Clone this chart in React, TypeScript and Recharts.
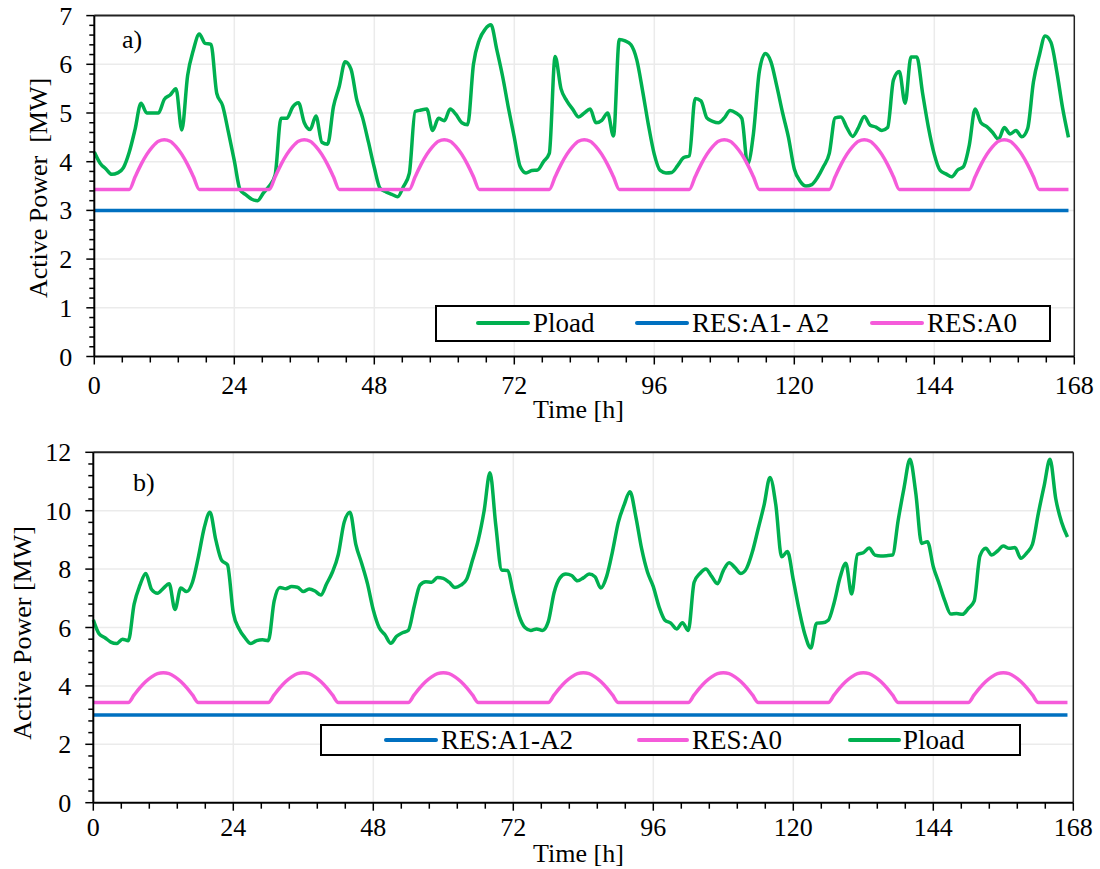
import React from 'react';
import { LineChart, Line, XAxis, YAxis, CartesianGrid, ReferenceLine } from 'recharts';

const FONT = '"Liberation Serif", "Times New Roman", Times, serif';

const HOURS = Array.from({ length: 168 }, (_, i) => i);

const PLOAD_A = [
  4.2, 3.97, 3.85, 3.74, 3.77, 3.88, 4.2, 4.67, 5.2, 5.0, 5.0, 5.0,
  5.28, 5.37, 5.5, 4.65, 5.77, 6.3, 6.62, 6.43, 6.41, 5.4, 5.15, 4.6,
  4.02, 3.42, 3.32, 3.23, 3.2, 3.36, 3.5, 3.73, 4.89, 4.89, 5.12, 5.21,
  4.8, 4.66, 4.94, 4.4, 4.36, 5.13, 5.55, 6.05, 5.9, 5.27, 4.9, 4.4,
  3.88, 3.45, 3.38, 3.33, 3.28, 3.49, 3.76, 5.03, 5.06, 5.08, 4.64, 4.89,
  4.84, 5.08, 4.97, 4.8, 4.76, 6.0, 6.5, 6.72, 6.81, 6.3, 5.75, 5.1,
  4.5, 3.9, 3.77, 3.82, 3.83, 4.0, 4.17, 6.16, 5.5, 5.25, 5.08, 4.92,
  5.0, 5.08, 4.8, 4.85, 5.0, 4.53, 6.51, 6.48, 6.4, 6.09, 5.45, 4.75,
  4.15, 3.82, 3.77, 3.78, 3.92, 4.08, 4.12, 5.3, 5.25, 4.9, 4.83, 4.8,
  4.9, 5.05, 5.0, 4.89, 3.95, 4.58, 5.85, 6.22, 6.05, 5.55, 5.0, 4.5,
  3.85, 3.6, 3.5, 3.53, 3.68, 3.9, 4.17, 4.9, 4.92, 4.7, 4.52, 4.7,
  4.93, 4.75, 4.71, 4.64, 4.7, 5.68, 5.85, 5.2, 6.15, 6.15, 5.4, 4.7,
  4.15, 3.82, 3.75, 3.69, 3.83, 3.9, 4.34, 5.08, 4.8, 4.72, 4.6, 4.46,
  4.7, 4.57, 4.64, 4.51, 4.68, 5.64, 6.18, 6.58, 6.45, 5.85, 5.1, 4.5,
];

const PLOAD_B = [
  6.26, 5.78, 5.65, 5.5, 5.45, 5.6, 5.55, 6.8, 7.45, 7.85, 7.3, 7.17,
  7.34, 7.5, 6.62, 7.35, 7.23, 7.55, 8.4, 9.4, 9.95, 9.0, 8.3, 8.15,
  6.5, 5.95, 5.65, 5.45, 5.55, 5.58, 5.55, 6.9, 7.37, 7.33, 7.4, 7.38,
  7.23, 7.32, 7.25, 7.11, 7.5, 7.9, 8.5, 9.6, 9.95, 8.85, 8.2, 7.5,
  6.6, 6.0, 5.75, 5.46, 5.7, 5.82, 5.9, 6.71, 7.45, 7.57, 7.55, 7.71,
  7.68, 7.55, 7.37, 7.45, 7.65, 8.3, 9.0, 10.0, 11.3, 9.5, 7.97, 7.95,
  7.17, 6.4, 6.0, 5.9, 5.95, 5.9, 6.2, 7.2, 7.7, 7.83, 7.78, 7.6,
  7.7, 7.83, 7.74, 7.35, 7.75, 8.6, 9.6, 10.2, 10.65, 9.8, 8.7, 7.9,
  7.4, 6.7, 6.25, 6.15, 5.95, 6.16, 5.9, 7.55, 7.85, 8.0, 7.75, 7.5,
  7.95, 8.22, 8.05, 7.85, 8.03, 8.6, 9.4, 10.2, 11.14, 10.2, 8.42, 8.6,
  7.63, 6.6, 5.75, 5.3, 6.15, 6.16, 6.25, 6.85, 7.7, 8.2, 7.15, 8.5,
  8.56, 8.72, 8.48, 8.45, 8.46, 8.48, 9.7, 10.8, 11.76, 10.6, 8.88, 8.94,
  8.08, 7.5, 6.9, 6.46, 6.48, 6.45, 6.65, 6.9, 8.45, 8.71, 8.48, 8.62,
  8.79, 8.71, 8.74, 8.37, 8.55, 8.85, 9.9, 10.85, 11.76, 10.4, 9.6, 9.1,
];

const RES_A0 = [
  3.43, 3.43, 3.43, 3.43, 3.43, 3.43, 3.43, 3.69, 3.94, 4.15, 4.31, 4.42, 4.45, 4.42, 4.31, 4.15, 3.94, 3.69, 3.43, 3.43, 3.43, 3.43, 3.43, 3.43,
  3.43, 3.43, 3.43, 3.43, 3.43, 3.43, 3.43, 3.69, 3.94, 4.15, 4.31, 4.42, 4.45, 4.42, 4.31, 4.15, 3.94, 3.69, 3.43, 3.43, 3.43, 3.43, 3.43, 3.43,
  3.43, 3.43, 3.43, 3.43, 3.43, 3.43, 3.43, 3.69, 3.94, 4.15, 4.31, 4.42, 4.45, 4.42, 4.31, 4.15, 3.94, 3.69, 3.43, 3.43, 3.43, 3.43, 3.43, 3.43,
  3.43, 3.43, 3.43, 3.43, 3.43, 3.43, 3.43, 3.69, 3.94, 4.15, 4.31, 4.42, 4.45, 4.42, 4.31, 4.15, 3.94, 3.69, 3.43, 3.43, 3.43, 3.43, 3.43, 3.43,
  3.43, 3.43, 3.43, 3.43, 3.43, 3.43, 3.43, 3.69, 3.94, 4.15, 4.31, 4.42, 4.45, 4.42, 4.31, 4.15, 3.94, 3.69, 3.43, 3.43, 3.43, 3.43, 3.43, 3.43,
  3.43, 3.43, 3.43, 3.43, 3.43, 3.43, 3.43, 3.69, 3.94, 4.15, 4.31, 4.42, 4.45, 4.42, 4.31, 4.15, 3.94, 3.69, 3.43, 3.43, 3.43, 3.43, 3.43, 3.43,
  3.43, 3.43, 3.43, 3.43, 3.43, 3.43, 3.43, 3.69, 3.94, 4.15, 4.31, 4.42, 4.45, 4.42, 4.31, 4.15, 3.94, 3.69, 3.43, 3.43, 3.43, 3.43, 3.43, 3.43,
];

const RES_A1A2 = [
  3, 3, 3, 3, 3, 3, 3, 3, 3, 3, 3, 3, 3, 3, 3, 3, 3, 3, 3, 3, 3, 3, 3, 3,
  3, 3, 3, 3, 3, 3, 3, 3, 3, 3, 3, 3, 3, 3, 3, 3, 3, 3, 3, 3, 3, 3, 3, 3,
  3, 3, 3, 3, 3, 3, 3, 3, 3, 3, 3, 3, 3, 3, 3, 3, 3, 3, 3, 3, 3, 3, 3, 3,
  3, 3, 3, 3, 3, 3, 3, 3, 3, 3, 3, 3, 3, 3, 3, 3, 3, 3, 3, 3, 3, 3, 3, 3,
  3, 3, 3, 3, 3, 3, 3, 3, 3, 3, 3, 3, 3, 3, 3, 3, 3, 3, 3, 3, 3, 3, 3, 3,
  3, 3, 3, 3, 3, 3, 3, 3, 3, 3, 3, 3, 3, 3, 3, 3, 3, 3, 3, 3, 3, 3, 3, 3,
  3, 3, 3, 3, 3, 3, 3, 3, 3, 3, 3, 3, 3, 3, 3, 3, 3, 3, 3, 3, 3, 3, 3, 3,
];

const X_MAJOR = [0, 24, 48, 72, 96, 120, 144, 168];
const X_TICKS = [
  0, 4.8, 9.6, 14.4, 19.2, 24, 28.8, 33.6, 38.4, 43.2, 48, 52.8, 57.6, 62.4, 67.2,
  72, 76.8, 81.6, 86.4, 91.2, 96, 100.8, 105.6, 110.4, 115.2, 120, 124.8, 129.6,
  134.4, 139.2, 144, 148.8, 153.6, 158.4, 163.2, 168,
];
const Y_MAJOR_A = [0, 1, 2, 3, 4, 5, 6, 7];
const Y_TICKS_A = [
  0, 0.2, 0.4, 0.6, 0.8, 1, 1.2, 1.4, 1.6, 1.8, 2, 2.2, 2.4, 2.6, 2.8, 3, 3.2, 3.4, 3.6, 3.8,
  4, 4.2, 4.4, 4.6, 4.8, 5, 5.2, 5.4, 5.6, 5.8, 6, 6.2, 6.4, 6.6, 6.8, 7,
];
const Y_MAJOR_B = [0, 2, 4, 6, 8, 10, 12];
const Y_TICKS_B = [
  0, 0.4, 0.8, 1.2, 1.6, 2, 2.4, 2.8, 3.2, 3.6, 4, 4.4, 4.8, 5.2, 5.6, 6, 6.4, 6.8, 7.2, 7.6,
  8, 8.4, 8.8, 9.2, 9.6, 10, 10.4, 10.8, 11.2, 11.6, 12,
];

const GREEN = '#00B050';
const BLUE = '#0070C0';
const PINK = '#F55BDA';

const dataA = HOURS.map((h, i) => ({ h, pload: PLOAD_A[i], resA0: RES_A0[i], resA1A2: RES_A1A2[i] }));
const dataB = HOURS.map((h, i) => ({ h, pload: PLOAD_B[i], resA0: RES_A0[i], resA1A2: RES_A1A2[i] }));

const isIn = (v: number, list: number[]) => list.some((m) => Math.abs(m - v) < 1e-6);

const makeXTick = (labelDy: number) => (props: any) => {
  const { x, y, payload } = props;
  const v = payload.value;
  const major = isIn(v, X_MAJOR);
  return (
    <g>
      <line x1={x} x2={x} y1={y} y2={y + (major ? 8 : 6)} stroke="#000" strokeWidth={1.5} />
      {major && (
        <text x={x} y={y + labelDy} textAnchor="middle" fontSize={26} fontFamily={FONT} fill="#000">
          {v}
        </text>
      )}
    </g>
  );
};

const makeYTick = (majors: number[]) => (props: any) => {
  const { x, y, payload } = props;
  const v = payload.value;
  const major = isIn(v, majors);
  return (
    <g>
      <line x1={x - (major ? 8 : 5)} x2={x} y1={y} y2={y} stroke="#000" strokeWidth={1.5} />
      {major && (
        <text x={x - 22} y={y + 9} textAnchor="end" fontSize={26} fontFamily={FONT} fill="#000">
          {v}
        </text>
      )}
    </g>
  );
};

const textStyle: React.CSSProperties = {
  position: 'absolute',
  fontFamily: FONT,
  fontSize: 26,
  color: '#000',
  whiteSpace: 'pre',
  lineHeight: '30px',
};

const LegendSwatch = ({ left, top, width, color }: any) => (
  <div style={{ position: 'absolute', left, top: top - 2, width, height: 4, background: color, borderRadius: 2 }} />
);

const LegendText = ({ left, top, text }: any) => (
  <div style={{ ...textStyle, fontSize: 27, left, top: top - 15 }}>{text}</div>
);

export default function App() {
  return (
    <div
      style={{
        position: 'absolute',
        left: 0,
        top: 0,
        width: 1100,
        height: 869,
        background: '#fff',
        overflow: 'hidden',
      }}
    >
      {/* Chart a) */}
      <div style={{ position: 'absolute', left: 0, top: 0 }}>
        <LineChart width={1100} height={430} data={dataA} margin={{ top: 15.6, right: 25.7, left: 0, bottom: 0 }}>
          <CartesianGrid
            stroke="#EBEBEB"
            strokeWidth={1.5}
            verticalValues={[24, 48, 72, 96, 120, 144]}
            horizontalValues={[1, 2, 3, 4, 5, 6]}
          />
          <XAxis
            dataKey="h"
            type="number"
            domain={[0, 168]}
            ticks={X_TICKS}
            interval={0}
            tick={makeXTick(37.8)}
            tickLine={false}
            tickSize={0}
            tickMargin={0}
            height={73.5}
            axisLine={{ stroke: '#000', strokeWidth: 2 }}
          />
          <YAxis
            type="number"
            domain={[0, 7]}
            ticks={Y_TICKS_A}
            interval={0}
            tick={makeYTick(Y_MAJOR_A)}
            tickLine={false}
            tickSize={0}
            tickMargin={0}
            width={94.3}
            axisLine={{ stroke: '#000', strokeWidth: 2 }}
          />
          <ReferenceLine y={7} stroke="#222" strokeWidth={2} />
          <ReferenceLine x={168} stroke="#222" strokeWidth={1.5} />
          <Line type="monotone" dataKey="pload" stroke={GREEN} strokeWidth={3.5} dot={false} isAnimationActive={false} />
          <Line type="monotone" dataKey="resA1A2" stroke={BLUE} strokeWidth={3.5} dot={false} isAnimationActive={false} />
          <Line type="monotone" dataKey="resA0" stroke={PINK} strokeWidth={3.5} dot={false} isAnimationActive={false} />
        </LineChart>
      </div>

      {/* Chart b) */}
      <div style={{ position: 'absolute', left: 0, top: 430 }}>
        <LineChart width={1100} height={439} data={dataB} margin={{ top: 22.3, right: 26.7, left: 0, bottom: 0 }}>
          <CartesianGrid
            stroke="#EBEBEB"
            strokeWidth={1.5}
            verticalValues={[24, 48, 72, 96, 120, 144]}
            horizontalValues={[2, 4, 6, 8, 10]}
          />
          <XAxis
            dataKey="h"
            type="number"
            domain={[0, 168]}
            ticks={X_TICKS}
            interval={0}
            tick={makeXTick(33.5)}
            tickLine={false}
            tickSize={0}
            tickMargin={0}
            height={66.3}
            axisLine={{ stroke: '#000', strokeWidth: 2 }}
          />
          <YAxis
            type="number"
            domain={[0, 12]}
            ticks={Y_TICKS_B}
            interval={0}
            tick={makeYTick(Y_MAJOR_B)}
            tickLine={false}
            tickSize={0}
            tickMargin={0}
            width={93.3}
            axisLine={{ stroke: '#000', strokeWidth: 2 }}
          />
          <ReferenceLine y={12} stroke="#222" strokeWidth={2} />
          <ReferenceLine x={168} stroke="#222" strokeWidth={1.5} />
          <Line type="monotone" dataKey="resA1A2" stroke={BLUE} strokeWidth={3.5} dot={false} isAnimationActive={false} />
          <Line type="monotone" dataKey="resA0" stroke={PINK} strokeWidth={3.5} dot={false} isAnimationActive={false} />
          <Line type="monotone" dataKey="pload" stroke={GREEN} strokeWidth={3.5} dot={false} isAnimationActive={false} />
        </LineChart>
      </div>

      {/* panel labels */}
      <div style={{ ...textStyle, left: 122, top: 25 }}>a)</div>
      <div style={{ ...textStyle, left: 133, top: 468 }}>b)</div>

      {/* axis titles */}
      <div style={{ ...textStyle, left: 478.5, width: 200, textAlign: 'center', top: 395 }}>Time [h]</div>
      <div style={{ ...textStyle, left: 478.5, width: 200, textAlign: 'center', top: 839 }}>Time [h]</div>
      <div
        style={{
          ...textStyle,
          left: 39 - 150,
          top: 188 - 15,
          width: 300,
          textAlign: 'center',
          transform: 'rotate(-90deg)',
        }}
      >
        {'Active Power  [MW]'}
      </div>
      <div
        style={{
          ...textStyle,
          left: 23 - 150,
          top: 633 - 15,
          width: 300,
          textAlign: 'center',
          transform: 'rotate(-90deg)',
        }}
      >
        {'Active Power [MW]'}
      </div>

      {/* legend a) */}
      <div
        style={{
          position: 'absolute',
          left: 435,
          top: 305,
          width: 612,
          height: 33,
          border: '2px solid #000',
          background: '#fff',
        }}
      />
      <LegendSwatch left={476} top={323} width={54} color={GREEN} />
      <LegendText left={533} top={323} text="Pload" />
      <LegendSwatch left={635} top={323} width={54} color={BLUE} />
      <LegendText left={692} top={323} text="RES:A1- A2" />
      <LegendSwatch left={870} top={323} width={54} color={PINK} />
      <LegendText left={927} top={323} text="RES:A0" />

      {/* legend b) */}
      <div
        style={{
          position: 'absolute',
          left: 320,
          top: 724,
          width: 697,
          height: 28,
          border: '2px solid #000',
          background: '#fff',
        }}
      />
      <LegendSwatch left={384} top={740} width={54} color={BLUE} />
      <LegendText left={441} top={740} text="RES:A1-A2" />
      <LegendSwatch left={637} top={740} width={52} color={PINK} />
      <LegendText left={692} top={740} text="RES:A0" />
      <LegendSwatch left={848} top={740} width={53} color={GREEN} />
      <LegendText left={903} top={740} text="Pload" />
    </div>
  );
}
